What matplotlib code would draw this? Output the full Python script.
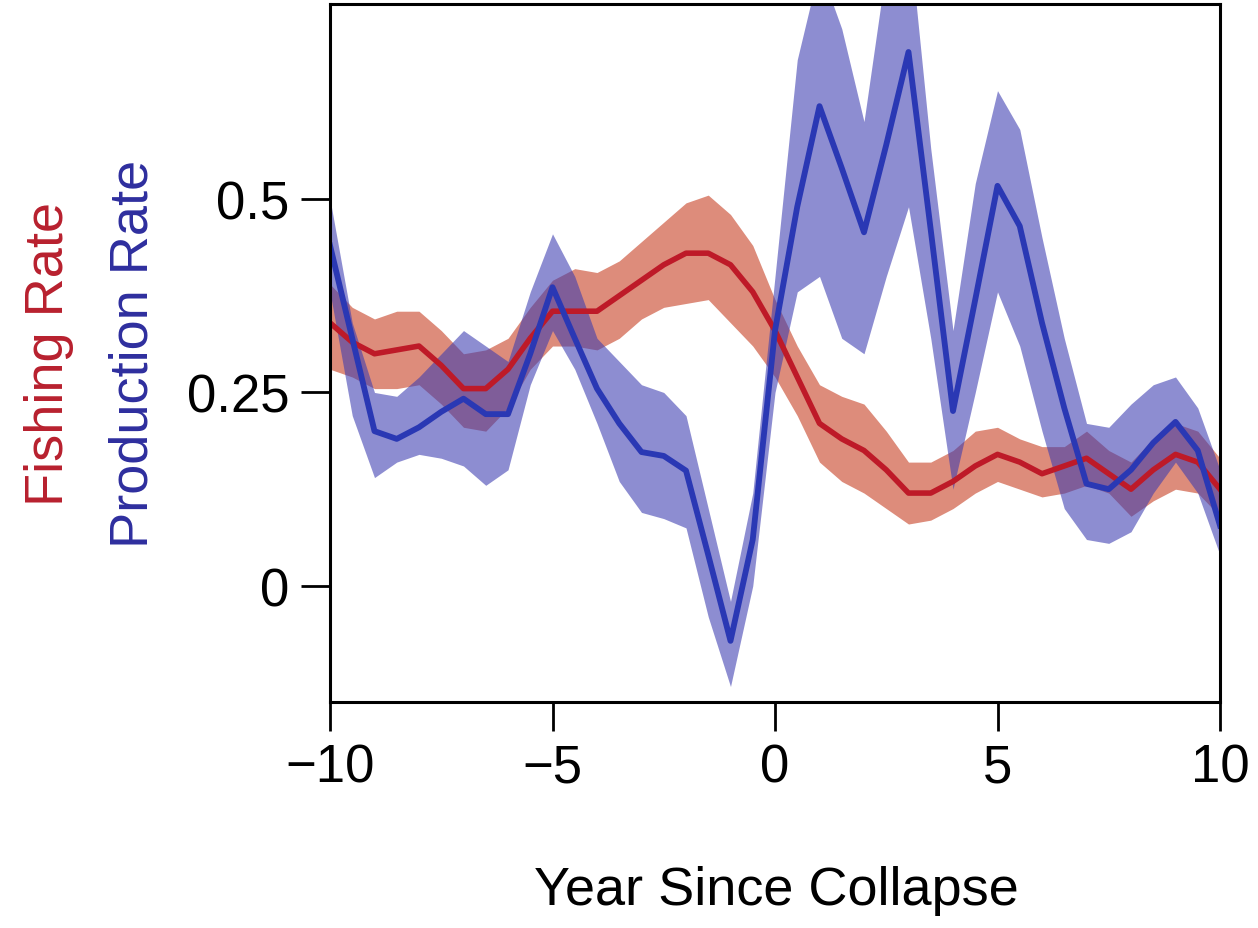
import matplotlib
matplotlib.use("Agg")
import matplotlib.pyplot as plt
import numpy as np

plt.rcParams['font.family'] = ['Liberation Sans', 'DejaVu Sans']

# years since collapse, half-year steps
years = np.arange(-10, 10.5, 0.5)

# fishing rate (red) and its band
fishing = [0.34, 0.315, 0.30, 0.305, 0.31, 0.285, 0.255, 0.255, 0.28, 0.32,
           0.355, 0.355, 0.355, 0.375, 0.395, 0.415, 0.43, 0.43, 0.415, 0.38,
           0.33, 0.27, 0.21, 0.19, 0.175, 0.15, 0.12, 0.12, 0.135, 0.155,
           0.17, 0.16, 0.145, 0.155, 0.165, 0.145, 0.125, 0.15, 0.17, 0.16,
           0.125]
fishing_hi = [0.39, 0.36, 0.345, 0.355, 0.355, 0.33, 0.30, 0.305, 0.32, 0.36,
              0.395, 0.41, 0.405, 0.42, 0.445, 0.47, 0.495, 0.505, 0.48, 0.44,
              0.37, 0.31, 0.26, 0.245, 0.235, 0.20, 0.16, 0.16, 0.175, 0.20,
              0.205, 0.19, 0.18, 0.18, 0.20, 0.175, 0.16, 0.19, 0.21, 0.20,
              0.165]
fishing_lo = [0.28, 0.27, 0.255, 0.255, 0.26, 0.235, 0.205, 0.20, 0.23, 0.28,
              0.31, 0.31, 0.305, 0.32, 0.345, 0.36, 0.365, 0.37, 0.34, 0.31,
              0.27, 0.22, 0.16, 0.135, 0.12, 0.10, 0.08, 0.085, 0.10, 0.12,
              0.135, 0.125, 0.115, 0.12, 0.13, 0.12, 0.09, 0.11, 0.125, 0.12,
              0.09]

# production rate (blue) and its band
production = [0.44, 0.32, 0.20, 0.19, 0.205, 0.225, 0.242, 0.222, 0.222, 0.30,
              0.386, 0.32, 0.255, 0.21, 0.173, 0.168, 0.149, 0.04, -0.071, 0.06,
              0.33, 0.49, 0.62, 0.54, 0.457, 0.57, 0.69, 0.46, 0.226, 0.37,
              0.517, 0.465, 0.34, 0.23, 0.132, 0.125, 0.15, 0.185, 0.212, 0.175,
              0.078]
production_hi = [0.50, 0.34, 0.25, 0.245, 0.27, 0.30, 0.33, 0.31, 0.29, 0.38,
                 0.455, 0.40, 0.32, 0.29, 0.26, 0.25, 0.22, 0.10, -0.02, 0.12,
                 0.40, 0.68, 0.80, 0.72, 0.60, 0.80, 0.85, 0.565, 0.33, 0.52,
                 0.64, 0.59, 0.45, 0.32, 0.21, 0.205, 0.235, 0.26, 0.27, 0.23,
                 0.15]
production_lo = [0.38, 0.22, 0.14, 0.16, 0.17, 0.165, 0.155, 0.13, 0.15, 0.26,
                 0.33, 0.28, 0.21, 0.135, 0.095, 0.087, 0.075, -0.04, -0.13, 0.0,
                 0.25, 0.38, 0.40, 0.32, 0.30, 0.40, 0.49, 0.32, 0.125, 0.25,
                 0.38, 0.31, 0.20, 0.10, 0.06, 0.055, 0.07, 0.12, 0.16, 0.12,
                 0.04]

xticks = [-10, -5, 0, 5, 10]
yticks = [0, 0.25, 0.5]
ytick_labels = ['0', '0.25', '0.5']

fig = plt.figure(figsize=(12.58, 9.29), dpi=100)
ax = fig.add_axes([330 / 1258, 1 - 703 / 929, 890 / 1258, 698 / 929])

ax.fill_between(years, fishing_lo, fishing_hi, color='#C8452A', alpha=0.62, lw=0)
ax.fill_between(years, production_lo, production_hi, color='#3B3BB0', alpha=0.58, lw=0)
ax.plot(years, fishing, color='#BE1A28', lw=4.0)
ax.plot(years, production, color='#2A38B4', lw=4.2)

ax.set_xlim(-10, 10)
ax.set_ylim(-0.15, 0.752)
ax.set_xticks(xticks)
ax.set_xticklabels([str(t).replace('-', '\u2212') for t in xticks])
ax.set_yticks(yticks)
ax.set_yticklabels(ytick_labels)
ax.tick_params(length=21, width=2, labelsize=38, pad=8, direction='out')
for s in ax.spines.values():
    s.set_linewidth(2.2)

fig.text(0.5 * (527 + 1025) / 1258, 1 - 905 / 929, 'Year Since Collapse',
         fontsize=39, ha='center', va='baseline')
fig.text(63 / 1258, 1 - 354 / 929, 'Fishing Rate', color='#B8202E', fontsize=39,
         rotation=90, rotation_mode='anchor', ha='center', va='baseline')
fig.text(148 / 1258, 1 - 354 / 929, 'Production Rate', color='#2E2E9E', fontsize=39,
         rotation=90, rotation_mode='anchor', ha='center', va='baseline')

fig.savefig('out.png', dpi=100)
